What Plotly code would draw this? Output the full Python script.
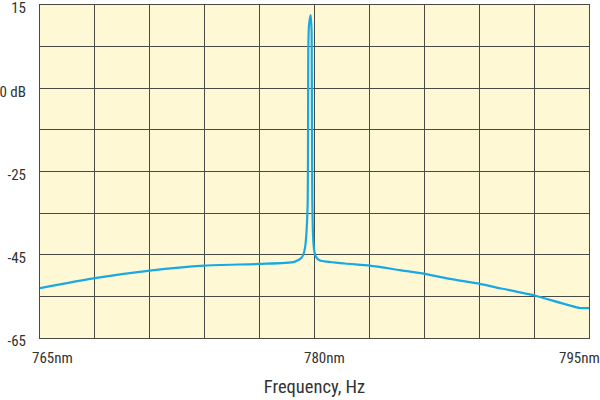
import plotly.graph_objects as go

# Spectrum trace (wavelength in nm, level in dB)
wavelength_nm = [765.0, 768.0, 771.0, 774.0, 777.0, 778.9, 779.27, 779.38, 779.49,
                 779.57, 779.63, 779.65, 779.66, 779.70, 779.79, 779.84, 779.85, 779.88,
                 779.92, 779.98, 780.08, 780.30, 781.67, 783.03, 784.67, 786.03, 787.4,
                 789.03, 790.2, 792.03, 794.49, 795.0]
level_db = [-53.0, -50.6, -48.8, -47.6, -47.2, -46.7, -45.8, -45.1, -43.1,
            -39.0, -31.8, -12.6, 4.2, 10.2, 12.6, 9.0, 1.8, -31.8,
            -40.3, -43.9, -45.5, -46.4, -47.1, -47.6, -48.7, -49.6, -50.8,
            -52.0, -53.1, -54.8, -57.8, -57.8]

y_tick_vals = [15, -5, -25, -45, -65]
y_tick_text = ["15", "0 dB", "-25", "-45", "-65"]
x_label_vals = [765, 780, 795]
x_label_text = ["765nm", "780nm", "795nm"]
x_label_shift = [12, 10, -10]

FONT = "Liberation Sans Narrow, Roboto Condensed, Roboto, Arial, sans-serif"
GRID = "#4a4a44"

fig = go.Figure()
fig.add_trace(go.Scatter(x=wavelength_nm, y=level_db, mode="lines",
                         line=dict(color="#18A9E4", width=2.2, shape="spline", smoothing=0.6),
                         hoverinfo="skip", showlegend=False))

for v, t, s in zip(x_label_vals, x_label_text, x_label_shift):
    fig.add_annotation(x=v, y=0, xref="x", yref="paper", text=t, showarrow=False,
                       xshift=s, yshift=-20, yanchor="middle", xanchor="center",
                       font=dict(family=FONT, size=15, color="#333333"))

fig.update_layout(
    width=600, height=400,
    margin=dict(l=40, r=11, t=5, b=62, autoexpand=False),
    paper_bgcolor="white", plot_bgcolor="#FFF8D4",
    font=dict(family=FONT, size=15, color="#333333"),
    xaxis=dict(range=[765, 795], dtick=3, tick0=765, showgrid=True, gridcolor=GRID,
               gridwidth=1, showticklabels=False, ticks="", zeroline=False, automargin=False,
               showline=True, mirror=True, linecolor=GRID, linewidth=1,
               title=dict(text="Frequency, Hz", standoff=42,
                          font=dict(family=FONT, size=18.5, color="#333333"))),
    yaxis=dict(range=[-65.001, 15.001], tickvals=y_tick_vals, ticktext=y_tick_text,
               showgrid=False, ticks="", zeroline=False, showline=True, mirror=True,
               automargin=False, linecolor=GRID, linewidth=1, ticklabelstandoff=10,
               ticklabeloverflow="allow", ticklabelshift=3,
               minor=dict(dtick=10, tick0=-65, showgrid=True, gridcolor=GRID, gridwidth=1, ticks="")),
)

fig.write_html("out.html", config={"displayModeBar": False},
               post_script="document.body.style.margin='0';")
